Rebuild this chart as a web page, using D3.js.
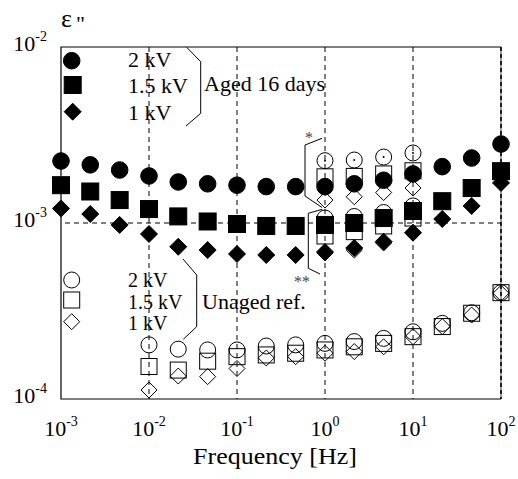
<!DOCTYPE html>
<html><head><meta charset="utf-8">
<script src="https://cdn.jsdelivr.net/npm/d3@7"></script>
<style>body{margin:0;background:#fff}svg{display:block}text{font-family:"Liberation Serif","Times New Roman",serif;fill:#000}</style>
</head><body><svg id="c" width="518" height="479"></svg>
<script>
// ---- data ----
const freqAged = [0.001, 0.00215, 0.00464, 0.01, 0.0215, 0.0464, 0.1, 0.215, 0.464, 1, 2.15, 4.64, 10, 21.5, 46.4, 100];
const aged2kV  = [2.25e-3, 2.14e-3, 2.0e-3, 1.85e-3, 1.71e-3, 1.67e-3, 1.64e-3, 1.61e-3, 1.61e-3, 1.61e-3, 1.67e-3, 1.75e-3, 1.90e-3, 2.09e-3, 2.34e-3, 2.81e-3];
const aged15kV = [1.64e-3, 1.51e-3, 1.35e-3, 1.20e-3, 1.09e-3, 1.02e-3, 0.987e-3, 0.962e-3, 0.962e-3, 0.975e-3, 1.0e-3, 1.067e-3, 1.17e-3, 1.33e-3, 1.58e-3, 1.97e-3];
const aged1kV  = [1.21e-3, 1.125e-3, 0.975e-3, 0.866e-3, 0.733e-3, 0.702e-3, 0.667e-3, 0.658e-3, 0.658e-3, 0.684e-3, 0.721e-3, 0.783e-3, 0.881e-3, 1.054e-3, 1.25e-3, 1.69e-3];

const freqStar = [1, 2.15, 4.64, 10];
const star2kV   = [2.26e-3, 2.28e-3, 2.37e-3, 2.50e-3];
const star15kV  = [1.83e-3, 1.84e-3, 1.90e-3, 1.98e-3];
const star1kV   = [1.35e-3, 1.41e-3, 1.49e-3, 1.58e-3];
const dstar2kV  = [1.067e-3, 1.089e-3, 1.147e-3, 1.25e-3];
const dstar15kV = [0.844e-3, 0.893e-3, 0.962e-3, 1.067e-3];
const dstar1kV  = [0.675e-3, 0.702e-3, 0.77e-3, 0.877e-3];

const freqUnaged = [0.01, 0.0215, 0.0464, 0.1, 0.215, 0.464, 1, 2.15, 4.64, 10, 21.5, 46.4, 100];
const unaged2kV  = [2.03e-4, 1.92e-4, 1.90e-4, 1.90e-4, 2.0e-4, 2.03e-4, 2.07e-4, 2.12e-4, 2.21e-4, 2.41e-4, 2.69e-4, 3.09e-4, 4.02e-4];
const unaged15kV = [1.53e-4, 1.46e-4, 1.64e-4, 1.74e-4, 1.78e-4, 1.82e-4, 1.90e-4, 1.98e-4, 2.07e-4, 2.26e-4, 2.58e-4, 3.07e-4, 4.02e-4];
const unaged1kV  = [1.125e-4, 1.35e-4, 1.34e-4, 1.49e-4, 1.71e-4, 1.74e-4, 1.82e-4, 1.86e-4, 1.98e-4, 2.26e-4, 2.58e-4, 3.0e-4, 3.99e-4];

const xTickExp = [-3, -2, -1, 0, 1, 2];
const yTickExp = [-4, -3, -2];
const legendAged = ["2 kV", "1.5 kV", "1 kV"];
const legendUnaged = ["2 kV", "1.5 kV", "1 kV"];

// ---- chart ----
const svg = d3.select("#c");
const L = 61, R = 501, T = 47, B = 399;
const x = d3.scaleLog().domain([1e-3, 1e2]).range([L, R]);
const y = d3.scaleLog().domain([1e-4, 1e-2]).range([B, T]);

svg.append("rect").attr("width", 518).attr("height", 479).attr("fill", "#fff");

// grid
const grid = svg.append("g").attr("stroke", "#000").attr("stroke-width", 1).attr("stroke-dasharray", "5,4");
[0.01, 0.1, 1, 10].forEach(f => grid.append("line").attr("x1", x(f)).attr("x2", x(f)).attr("y1", T).attr("y2", B));
grid.append("line").attr("x1", L + 4).attr("x2", R).attr("y1", y(1e-3)).attr("y2", y(1e-3));

// frame
const fr = svg.append("g").attr("fill", "none");
fr.append("path").attr("d", `M${R},${T}H${L}V${B}H${R}`).attr("stroke", "#000").attr("stroke-width", 1.2);
fr.append("line").attr("x1", R).attr("x2", R).attr("y1", T).attr("y2", B).attr("stroke", "#888").attr("stroke-width", 1.6);
fr.append("line").attr("x1", R).attr("x2", R).attr("y1", T).attr("y2", B).attr("stroke", "#000").attr("stroke-width", 1.6).attr("stroke-dasharray", "4,3");

// x tick labels
const xt = svg.append("g");
xTickExp.forEach(e => {
  const t = xt.append("text").attr("x", x(Math.pow(10, e))).attr("y", 436).attr("text-anchor", "middle").attr("font-size", 22);
  t.append("tspan").text("10");
  t.append("tspan").attr("dy", -10).attr("font-size", 14).text(e < 0 ? "-" + (-e) : String(e));
});
// y tick labels
yTickExp.forEach(e => {
  const t = xt.append("text").attr("x", 47).attr("y", y(Math.pow(10, e)) + 4).attr("text-anchor", "end").attr("font-size", 22);
  t.append("tspan").text("10");
  t.append("tspan").attr("dy", -10).attr("font-size", 14).text("-" + (-e));
});

svg.append("text").attr("x", 193).attr("y", 464).attr("font-size", 23)
  .attr("textLength", 164).attr("lengthAdjust", "spacingAndGlyphs").text("Frequency [Hz]");
svg.append("text").attr("x", 61).attr("y", 27).attr("font-size", 26).text("ε");
svg.append("text").attr("x", 76).attr("y", 31).attr("font-size", 22).text("\"");

// marker shapes
function circle(g, cx, cy, r, filled) {
  g.append("circle").attr("cx", cx).attr("cy", cy).attr("r", r)
    .attr("fill", filled ? "#000" : "none").attr("stroke", "#000").attr("stroke-width", 1);
}
function square(g, cx, cy, s, filled) {
  g.append("rect").attr("x", cx - s / 2).attr("y", cy - s / 2).attr("width", s).attr("height", s)
    .attr("fill", filled ? "#000" : "none").attr("stroke", "#000").attr("stroke-width", 1);
}
function diamond(g, cx, cy, h, filled) {
  g.append("path").attr("d", `M${cx},${cy - h}L${cx + h},${cy}L${cx},${cy + h}L${cx - h},${cy}Z`)
    .attr("fill", filled ? "#000" : "none").attr("stroke", "#000").attr("stroke-width", 1);
}

const m = svg.append("g");
// unaged (open)
freqUnaged.forEach((f, i) => {
  circle(m, x(f), y(unaged2kV[i]), 8, false);
  square(m, x(f), y(unaged15kV[i]), 16, false);
  diamond(m, x(f), y(unaged1kV[i]), 8, false);
});
// * and ** groups (open)
freqStar.forEach((f, i) => {
  circle(m, x(f), y(star2kV[i]), 8, false);
  m.append("circle").attr("cx", x(f)).attr("cy", y(star2kV[i])).attr("r", 1).attr("fill", "#000");
  square(m, x(f), y(star15kV[i]), 16, false);
  diamond(m, x(f), y(star1kV[i]), 8, false);
  circle(m, x(f), y(dstar2kV[i]), 8, false);
  square(m, x(f), y(dstar15kV[i]), 16, false);
  diamond(m, x(f), y(dstar1kV[i]), 8, false);
});
// aged (filled)
freqAged.forEach((f, i) => {
  circle(m, x(f), y(aged2kV[i]), 8.3, true);
  square(m, x(f), y(aged15kV[i]), 17, true);
  diamond(m, x(f), y(aged1kV[i]), 8.5, true);
});

// legends
const lg = svg.append("g");
circle(lg, 71.7, 60.7, 8.3, true);
square(lg, 72.7, 85, 17, true);
diamond(lg, 72.7, 111.7, 8.5, true);
[67, 93, 120].forEach((yy, i) => lg.append("text").attr("x", 128).attr("y", yy).attr("font-size", 22).text(legendAged[i]));
lg.append("text").attr("x", 204).attr("y", 91).attr("font-size", 22).text("Aged 16 days");

circle(lg, 71.7, 280, 8, false);
square(lg, 71.7, 300, 16, false);
diamond(lg, 71.7, 321.7, 8, false);
[287, 308.5, 330].forEach((yy, i) => lg.append("text").attr("x", 128).attr("y", yy).attr("font-size", 20).text(legendUnaged[i]));
lg.append("text").attr("x", 202).attr("y", 309).attr("font-size", 22).text("Unaged ref.");

// brackets
const br = svg.append("g").attr("fill", "none").attr("stroke", "#000").attr("stroke-width", 1);
br.append("path").attr("d", "M186.7,47.3L200.7,61.7V113.3L186,126");
br.append("path").attr("d", "M183,259L196.7,275V326.7L183.3,339.3");
br.append("path").attr("d", "M322,138.3L305,145V196L322,207.5");
br.append("path").attr("d", "M322.3,209.3L308.3,213.3V268.3L320,274");
svg.append("text").attr("x", 309).attr("y", 143).attr("text-anchor", "middle").attr("font-size", 16).style("fill", "#444").text("*");
svg.append("text").attr("x", 302).attr("y", 287).attr("text-anchor", "middle").attr("font-size", 16).style("fill", "#444").text("**");
</script></body></html>
